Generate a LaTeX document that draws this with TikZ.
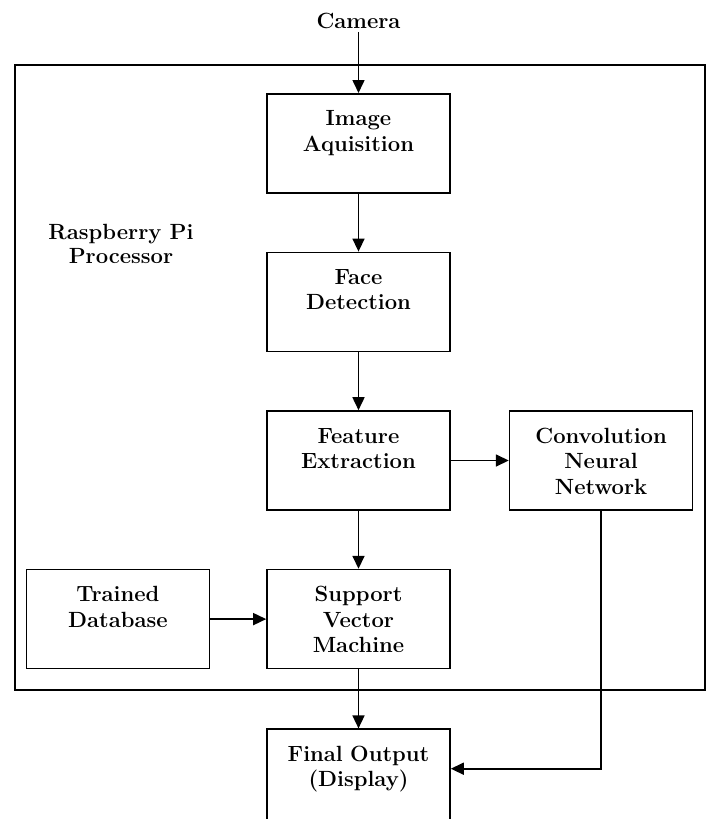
\documentclass[tikz,border=0pt]{standalone}
\usepackage{tikz}
\usetikzlibrary{arrows.meta, positioning}
\tikzset{
  blk/.style={rectangle, draw=black, line width=1.6pt, fill=white,
    text width=183pt, inner sep=0pt, text height=32pt, text depth=67pt,
    align=center, font=\fontsize{22}{25.5}\selectfont\bfseries},
  lbl/.style={align=center, font=\fontsize{22}{24}\selectfont\bfseries},
  arr/.style={-{Triangle[length=13pt,width=12pt]}, line width=1.6pt},
}

\begin{document}
\begin{tikzpicture}[x=1pt, y=1pt, node distance=58pt]
  \useasboundingbox (0,0) rectangle (707,-819);
  % processor frame
  \draw[line width=1.6pt] (15,-65) rectangle (705,-690);
  \node[lbl, anchor=base] (cam) at (358.5,-28) {Camera};
  \node[lbl, anchor=base] (rpi) at (121,-263) {Raspberry Pi\\Processor};

  \node[blk, anchor=north] (img) at (358.5,-93) {Image\\Aquisition};
  \node[blk, below=of img] (face) {Face\\Detection};
  \node[blk, below=of face] (feat) {Feature\\Extraction};
  \node[blk, right=58pt of feat] (cnn) {Convolution\\Neural\\Network};
  \node[blk, below=of feat] (svm) {Support\\Vector\\Machine};
  \node[blk, left=56pt of svm] (db) {Trained\\Database};
  \node[blk, below=59pt of svm] (fin) {Final Output\\(Display)};
  \coordinate (fin in) at ([yshift=10pt]fin.east);

  \draw[arr] (cam) -- (img);
  \draw[arr] (img) -- (face);
  \draw[arr] (face) -- (feat);
  \draw[arr] (feat) -- (cnn);
  \draw[arr] (feat) -- (svm);
  \draw[arr] (db) -- (svm);
  \draw[arr] (svm) -- (fin);
  \draw[arr] (cnn.south) |- (fin in);
\end{tikzpicture}
\end{document}
